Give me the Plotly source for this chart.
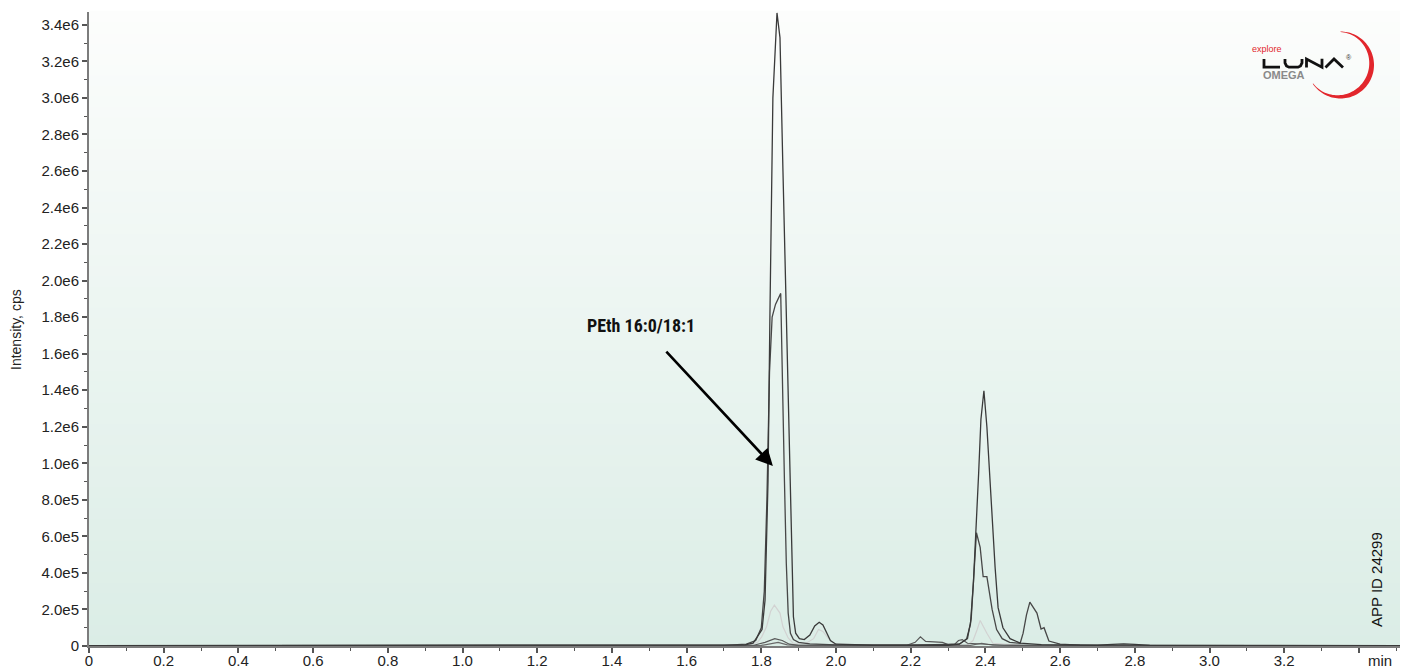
import math
import plotly.graph_objects as go

# ---- chromatogram traces (time in min, intensity in millions of cps) ----
trace_a_time = [0.00, 1.70, 1.756, 1.778, 1.802, 1.810, 1.818, 1.823, 1.831, 1.842,
                1.850, 1.858, 1.866, 1.872, 1.877, 1.882, 1.886, 1.892, 1.902, 1.915,
                1.930, 1.943, 1.955, 1.965, 1.975, 1.985, 2.000, 2.10, 2.30, 2.330,
                2.350, 2.360, 2.368, 2.376, 2.382, 2.388, 2.396, 2.404, 2.412, 2.420,
                2.426, 2.434, 2.447, 2.466, 2.493, 2.55, 2.70, 2.74, 2.77, 2.80,
                2.84, 3.51]
trace_a_mcps = [0.002, 0.003, 0.006, 0.016, 0.09, 0.25, 0.9, 1.8, 3.0, 3.465,
                3.33, 2.6, 1.9, 1.25, 0.9, 0.42, 0.16, 0.07, 0.04, 0.035,
                0.06, 0.11, 0.13, 0.115, 0.07, 0.03, 0.01, 0.004, 0.004, 0.01,
                0.04, 0.12, 0.35, 0.65, 0.95, 1.24, 1.397, 1.2, 0.9, 0.6,
                0.43, 0.21, 0.1, 0.04, 0.016, 0.008, 0.004, 0.009, 0.012, 0.009,
                0.003, 0.002]

trace_b_time = [0.00, 1.70, 1.760, 1.785, 1.800, 1.808, 1.815, 1.822, 1.829, 1.838,
                1.852, 1.857, 1.862, 1.867, 1.872, 1.878, 1.886, 1.900, 1.930, 2.00,
                2.20, 2.330, 2.352, 2.362, 2.370, 2.376, 2.386, 2.394, 2.404, 2.418,
                2.430, 2.445, 2.465, 2.493, 2.501, 2.510, 2.519, 2.538, 2.549, 2.557,
                2.570, 2.600, 2.653, 3.51]
trace_b_mcps = [0.002, 0.003, 0.01, 0.03, 0.1, 0.3, 0.8, 1.5, 1.8, 1.87,
                1.93, 1.5, 0.9, 0.45, 0.18, 0.07, 0.035, 0.02, 0.012, 0.006,
                0.004, 0.01, 0.04, 0.15, 0.4, 0.62, 0.54, 0.38, 0.38, 0.2,
                0.09, 0.04, 0.02, 0.015, 0.07, 0.17, 0.24, 0.18, 0.093, 0.1,
                0.027, 0.01, 0.005, 0.002]

trace_c_time = [0.00, 1.76, 1.790, 1.801, 1.814, 1.825, 1.835, 1.850, 1.858, 1.872,
                1.885, 1.92, 1.940, 1.953, 1.965, 1.980, 1.995, 2.10, 2.35, 2.367,
                2.378, 2.386, 2.404, 2.420, 2.50, 3.51]
trace_c_mcps = [0.002, 0.003, 0.02, 0.05, 0.105, 0.19, 0.224, 0.18, 0.105, 0.044,
                0.016, 0.015, 0.04, 0.09, 0.08, 0.04, 0.01, 0.003, 0.003, 0.03,
                0.09, 0.14, 0.07, 0.015, 0.003, 0.002]

trace_d_time = [0.00, 1.78, 1.810, 1.836, 1.856, 1.875, 1.90, 2.19, 2.212, 2.226,
                2.240, 2.255, 2.285, 2.300, 2.318, 2.328, 2.338, 2.352, 2.40, 2.45,
                3.51]
trace_d_mcps = [0.002, 0.004, 0.02, 0.04, 0.03, 0.01, 0.004, 0.004, 0.02, 0.05,
                0.025, 0.022, 0.02, 0.008, 0.01, 0.03, 0.035, 0.015, 0.01, 0.004,
                0.002]

trace_e_time = [0.00, 1.80, 1.845, 1.870, 1.90, 2.36, 2.39, 2.42, 3.51]
trace_e_mcps = [0.002, 0.003, 0.02, 0.006, 0.003, 0.003, 0.015, 0.004, 0.002]

# ---- axis ticks ----
x_tick_vals = [0, 0.2, 0.4, 0.6, 0.8, 1.0, 1.2, 1.4, 1.6, 1.8, 2.0, 2.2, 2.4, 2.6, 2.8, 3.0, 3.2, 3.4]
x_tick_text = ["0", "0.2", "0.4", "0.6", "0.8", "1.0", "1.2", "1.4", "1.6", "1.8",
               "2.0", "2.2", "2.4", "2.6", "2.8", "3.0", "3.2", ""]
y_tick_vals = [0, 2e5, 4e5, 6e5, 8e5, 1.0e6, 1.2e6, 1.4e6, 1.6e6, 1.8e6, 2.0e6,
               2.2e6, 2.4e6, 2.6e6, 2.8e6, 3.0e6, 3.2e6, 3.4e6]
y_tick_text = ["0", "2.0e5", "4.0e5", "6.0e5", "8.0e5", "1.0e6", "1.2e6", "1.4e6", "1.6e6",
               "1.8e6", "2.0e6", "2.2e6", "2.4e6", "2.6e6", "2.8e6", "3.0e6", "3.2e6", "3.4e6"]

peak_label = "PEth 16:0/18:1"
peak_arrow_head = (1.831, 0.985e6)
peak_arrow_tail = (1.542, 1.62e6)

# ---- canvas geometry ----
W, H = 1402, 669
ML, MR, MT, MB = 89, 2, 12, 23
PW, PH = W - ML - MR, H - MT - MB
X_MAX = PW / 373.5
Y_MAX = PH / 182.7e-6


def px(x):
    return (x - ML) / PW


def py(y):
    return (H - MB - y) / PH


FONT = "Liberation Sans, Arial, Helvetica, sans-serif"

fig = go.Figure()

styles = [
    (trace_c_time, trace_c_mcps, "#d2d2d2", 1.2),
    (trace_e_time, trace_e_mcps, "#6a6a6a", 1.2),
    (trace_d_time, trace_d_mcps, "#585858", 1.2),
    (trace_b_time, trace_b_mcps, "#474747", 1.3),
    (trace_a_time, trace_a_mcps, "#3a3a3a", 1.3),
]
for t, v, color, width in styles:
    fig.add_trace(go.Scatter(
        x=t, y=[val * 1e6 for val in v], mode="lines",
        line=dict(color=color, width=width), hoverinfo="skip", showlegend=False,
    ))

# background gradient (white at top fading to pale green at bottom)
shapes = []
bands = 60
top_rgb = (252, 253, 252)
bot_rgb = (219, 237, 230)
for i in range(bands):
    f = (i + 0.5) / bands
    c = tuple(round(bot_rgb[k] + (top_rgb[k] - bot_rgb[k]) * f) for k in range(3))
    shapes.append(dict(
        type="rect", xref="paper", yref="paper", x0=0, x1=1,
        y0=i / bands, y1=(i + 1) / bands + 0.002,
        fillcolor="rgb(%d,%d,%d)" % c, line=dict(width=0), layer="below",
    ))


def path_from(points, close=False):
    s = "M" + " L".join("%.5f,%.5f" % (px(x), py(y)) for x, y in points)
    return s + (" Z" if close else "")


# logo crescent
cx, cy, r_out = 1340.5, 65.0, 33.5
a0, a1 = -90.0, 146.0
steps = 80
outer, inner = [], []
for i in range(steps + 1):
    a = a0 + (a1 - a0) * i / steps
    th = math.radians(a)
    w = 0.6 + 4.6 * math.sin(math.pi * i / steps) ** 1.3
    outer.append((cx + r_out * math.cos(th), cy + r_out * math.sin(th)))
    inner.append((cx + (r_out - w) * math.cos(th), cy + (r_out - w) * math.sin(th)))
shapes.append(dict(type="path", xref="paper", yref="paper",
                   path=path_from(outer + inner[::-1], close=True),
                   fillcolor="#e2262c", line=dict(width=0)))

# logo wordmark strokes
letter_paths = [
    [(1264, 59), (1264, 67.2), (1280, 67.2)],
    [(1285, 59), (1285, 63), (1286.5, 66), (1289, 67.2), (1298, 67.2), (1300.5, 66), (1302, 63), (1302, 59)],
    [(1306.5, 67.5), (1306.5, 59), (1322, 67.2), (1322, 58.7)],
    [(1325.5, 67.5), (1334, 59), (1343, 67.5)],
]
for pts in letter_paths:
    shapes.append(dict(type="path", xref="paper", yref="paper", path=path_from(pts),
                       line=dict(color="#111111", width=2.8)))


def label(text, x, y, size, color, angle=0, family=FONT):
    return dict(text=text, xref="paper", yref="paper", x=px(x), y=py(y),
                xanchor="center", yanchor="middle", textangle=angle, showarrow=False,
                font=dict(family=family, size=size, color=color))


annotations = [
    label("Intensity, cps", 16, 330, 14, "#222222", angle=-90),
    label("min", 1380, 660, 15, "#222222"),
    label("APP ID 24299", 1376, 580, 15, "#111111", angle=-90),
    label("<b>%s</b>" % peak_label, 641, 325, 18, "#111111",
          family="Liberation Sans Narrow, Roboto Condensed, Liberation Sans, sans-serif"),
    dict(text="", x=peak_arrow_head[0], y=peak_arrow_head[1], xref="x", yref="y",
         ax=peak_arrow_tail[0], ay=peak_arrow_tail[1], axref="x", ayref="y",
         showarrow=True, arrowhead=2, arrowsize=1.3, arrowwidth=2.6, arrowcolor="#000000"),
    label("explore", 1267, 49, 9, "#e2262c"),
    label("<b>OMEGA</b>", 1284, 75, 11, "#8a8a8a"),
    label("®", 1349, 57, 7, "#333333"),
]

fig.update_layout(
    width=W, height=H,
    margin=dict(l=ML, r=MR, t=MT, b=MB, pad=0, autoexpand=False),
    paper_bgcolor="white",
    plot_bgcolor="rgb(%d,%d,%d)" % bot_rgb,
    shapes=shapes,
    annotations=annotations,
    font=dict(family=FONT, size=15, color="#222222"),
    xaxis=dict(
        range=[0, X_MAX], showgrid=False, zeroline=False, automargin=False,
        showline=True, linecolor="#7c7c7c", linewidth=2,
        tickmode="array", tickvals=x_tick_vals, ticktext=x_tick_text,
        ticks="outside", ticklen=5, tickwidth=1.5, tickcolor="#555555",
        ticklabelstandoff=-5,
        tickfont=dict(family=FONT, size=15, color="#222222"),
        minor=dict(tickmode="linear", tick0=0, dtick=0.1, ticks="outside",
                   ticklen=3, tickwidth=1.2, tickcolor="#555555", showgrid=False),
        fixedrange=True,
    ),
    yaxis=dict(
        range=[0, Y_MAX], showgrid=False, zeroline=False, automargin=False,
        showline=True, linecolor="#7c7c7c", linewidth=2,
        tickmode="array", tickvals=y_tick_vals, ticktext=y_tick_text,
        ticks="outside", ticklen=5, tickwidth=1.5, tickcolor="#555555",
        tickfont=dict(family=FONT, size=15, color="#222222"),
        minor=dict(tickmode="linear", tick0=0, dtick=1e5, ticks="outside",
                   ticklen=3, tickwidth=1.2, tickcolor="#555555", showgrid=False),
        fixedrange=True,
    ),
)

fig.write_html("out.html")
